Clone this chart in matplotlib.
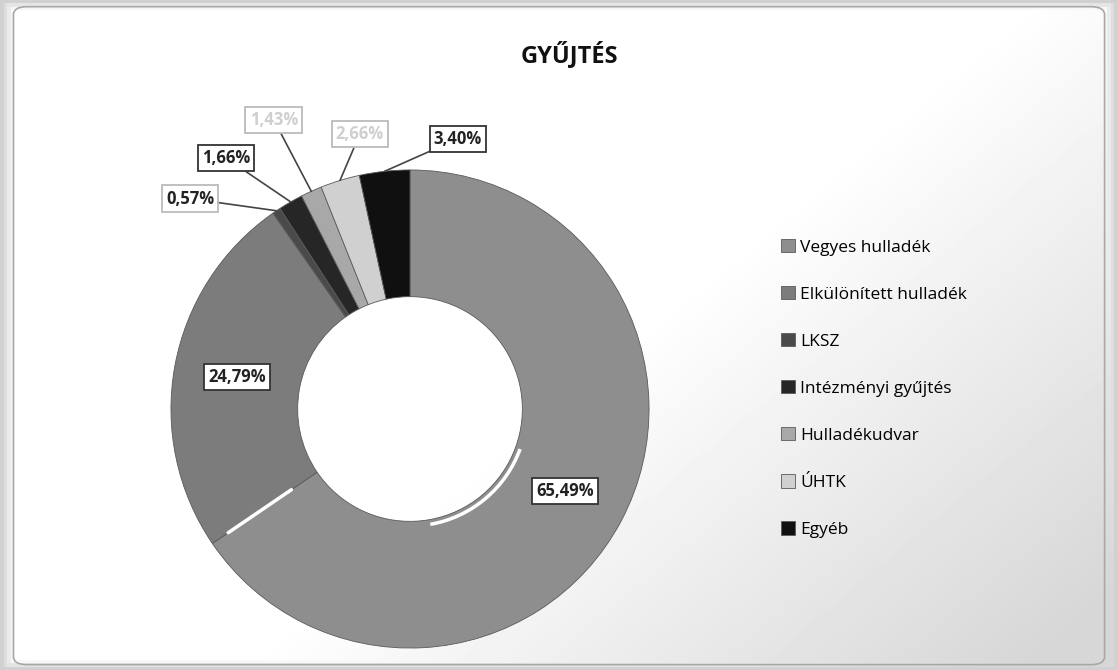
import numpy as np
import matplotlib
matplotlib.use("Agg")
import matplotlib.pyplot as plt
from matplotlib.patches import FancyBboxPatch, Arc

plt.rcParams['font.family'] = ['Open Sans', 'DejaVu Sans']

## data
categories = ["Vegyes hulladék", "Elkülönített hulladék", "LKSZ", "Intézményi gyűjtés",
              "Hulladékudvar", "ÚHTK", "Egyéb"]
shares = [65.49, 24.79, 0.57, 1.66, 1.43, 2.66, 3.40]
label_texts = ["65,49%", "24,79%", "0,57%", "1,66%", "1,43%", "2,66%", "3,40%"]
colors = ["#8e8e8e", "#7c7c7c", "#4a4a4a", "#262626", "#a8a8a8", "#d0d0d0", "#101010"]

# outside label spots for the thin slices (data units, radius = 1)
outside_xy = {2: (-0.92, 0.88), 3: (-0.77, 1.05), 4: (-0.57, 1.21),
              5: (-0.21, 1.15), 6: (0.20, 1.13)}

W, H = 1118, 670
fig = plt.figure(figsize=(W / 100, H / 100), dpi=100)
fig.patch.set_facecolor("white")

## background haze + frame
bg = fig.add_axes([0, 0, 1, 1])
yy, xx = np.mgrid[0:1:200j, 0:1:300j]
haze = np.clip((xx - 0.6) * 1.4 + (yy - 0.45) * 1.0, 0, 1) * 0.16
edge = np.clip(0.012 - np.minimum.reduce([xx, 1 - xx, yy, 1 - yy]), 0, None) / 0.012 * 0.18
bg.imshow(1 - np.maximum(haze, edge), cmap="gray", vmin=0, vmax=1,
          extent=[0, 1, 0, 1], origin="upper", aspect="auto")
bg.add_patch(FancyBboxPatch((0.012, 0.008), 0.976, 0.982,
                            boxstyle="round,pad=0,rounding_size=0.012",
                            fc="none", ec="#a8a8a8", lw=1.2))
bg.set_xlim(0, 1)
bg.set_ylim(0, 1)
bg.axis("off")

## donut
R = 249
cx, cy = 410, H - 409
lim = 1.2
side = 2 * lim * R
ax = fig.add_axes([(cx - side / 2) / W, (cy - side / 2) / H, side / W, side / H])
ax.set_xlim(-lim, lim)
ax.set_ylim(-lim, lim)
ax.set_aspect("equal")
ax.axis("off")

ring = 0.53
wedges, _ = ax.pie(shares, colors=colors, startangle=90, counterclock=False,
                   radius=1, wedgeprops=dict(width=ring, edgecolor="#5a5a5a", linewidth=0.6))

# bevel highlight on the inner rim and the gap after the first slice
ax.add_patch(Arc((0, 0), 2 * (1 - ring) + 0.04, 2 * (1 - ring) + 0.04,
                 theta1=-80, theta2=-20, color="white", lw=2.5))
t = np.deg2rad(wedges[0].theta1)
ax.plot([0.6 * np.cos(t), 0.92 * np.cos(t)], [0.6 * np.sin(t), 0.92 * np.sin(t)],
        color="white", lw=2.5, solid_capstyle="round")

box = dict(boxstyle="square,pad=0.25", fc="white", ec="#333333", lw=1.3)
for i, w in enumerate(wedges):
    mid = np.deg2rad((w.theta1 + w.theta2) / 2)
    if i in outside_xy:
        tip = (np.cos(mid), np.sin(mid))
        faint = i in (4, 5)
        ax.annotate(label_texts[i], xy=tip, xytext=outside_xy[i],
                    ha="center", va="center", fontsize=12,
                    fontweight="bold", color="#cfcfcf" if faint else "#222222",
                    bbox=dict(boxstyle="square,pad=0.25", fc="white",
                              ec="#bbbbbb" if (faint or i == 2) else "#333333", lw=1.3),
                    arrowprops=dict(arrowstyle="-", color="#444444", lw=1.2,
                                    shrinkA=0, shrinkB=0),
                    annotation_clip=False)
    else:
        rm = 1 - ring / 2
        ax.text(rm * np.cos(mid), rm * np.sin(mid), label_texts[i],
                ha="center", va="center", fontsize=12, fontweight="bold",
                color="#222222", bbox=box)

fig.text(569 / W, 1 - 55 / H, "GYŰJTÉS", ha="center", va="center",
         fontsize=17, fontweight="bold", color="#111111")

fig.legend(wedges, categories, loc="upper left",
           bbox_to_anchor=(774 / W, 1 - 232 / H), frameon=False,
           fontsize=12.5, handlelength=0.8, handleheight=0.8,
           handletextpad=0.3, labelspacing=1.75, borderaxespad=0)

fig.savefig("out.png", dpi=100)
